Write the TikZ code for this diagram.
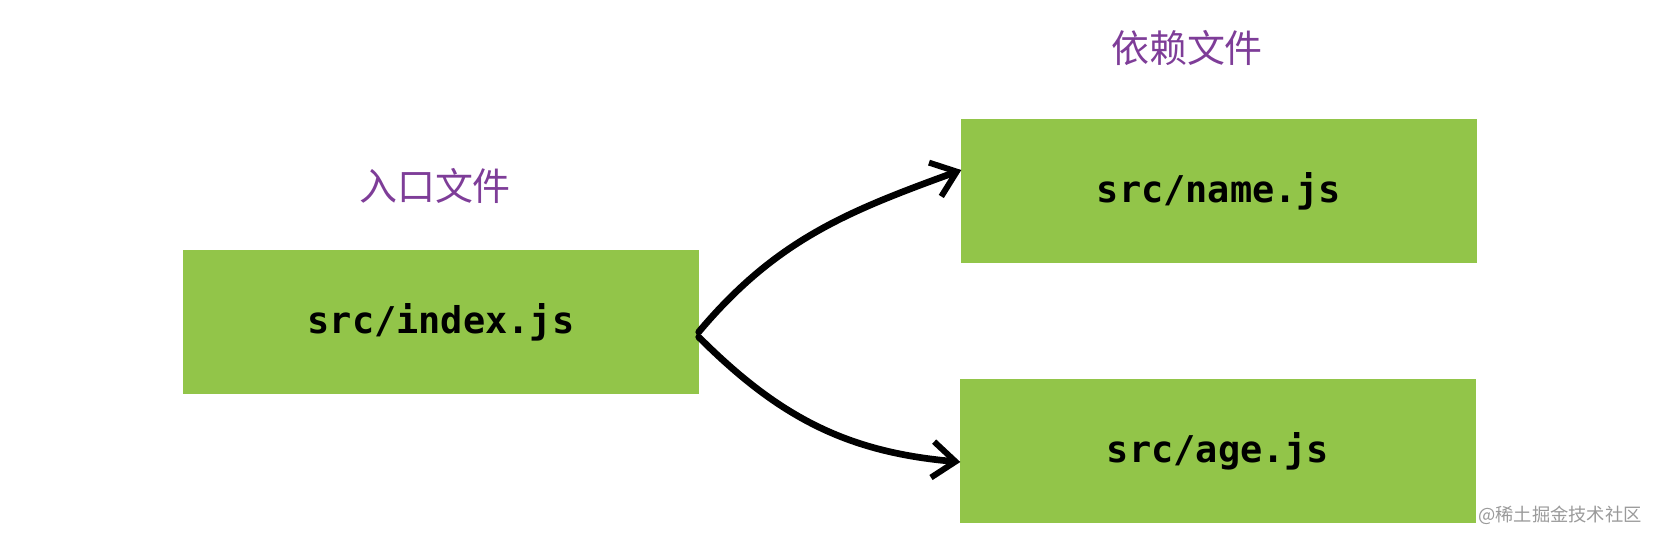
\documentclass[tikz,border=0pt]{standalone}
\usepackage{fontspec}
\setmonofont{DejaVu Sans Mono}
\newfontfamily\cjk{Noto Sans CJK SC}
\usepackage{tikz}
\usetikzlibrary{arrows.meta,positioning}
\definecolor{modgreen}{HTML}{92C549}
\definecolor{tagpurple}{HTML}{7E3D98}
\definecolor{markgray}{HTML}{9A9A9A}

\begin{document}
\begin{tikzpicture}[
  filebox/.style={fill=modgreen,draw=modgreen,minimum width=5.14cm,minimum height=1.42cm,
    font=\fontsize{10.5}{12}\selectfont\ttfamily\bfseries,text=black},
  tagtext/.style={font=\fontsize{10.8}{13}\selectfont\cjk,text=tagpurple},
  deplink/.style={black,line width=1.9pt,line cap=round,
    -{Straight Barb[length=2.3mm,width=3.6mm,line width=1.7pt]}}
]
  \useasboundingbox (0,0) rectangle (16.58,5.42);

  % Entry file
  \node[filebox] (index) at (4.41,2.20) {src/index.js};
  \node[tagtext] (entrytag) at (4.35,3.56) {入口文件};

  % Dependencies
  \node[filebox] (name) at (12.19,3.51) {src/name.js};
  \node[filebox] (age) at (12.18,0.91) {src/age.js};
  \node[tagtext] (deptag) at (11.87,4.94) {依赖文件};

  % Links
  \draw[deplink] ([yshift=-1mm]index.east) to[out=50,in=200] ([yshift=2.1mm]name.west);
  \draw[deplink] ([yshift=-1.5mm]index.east) to[out=-45,in=175] ([yshift=-1.1mm]age.west);

  % Watermark
  \node[font=\fontsize{5.2}{6}\selectfont\cjk,text=markgray] (mark) at (15.60,0.27) {@稀土掘金技术社区};
\end{tikzpicture}
\end{document}
